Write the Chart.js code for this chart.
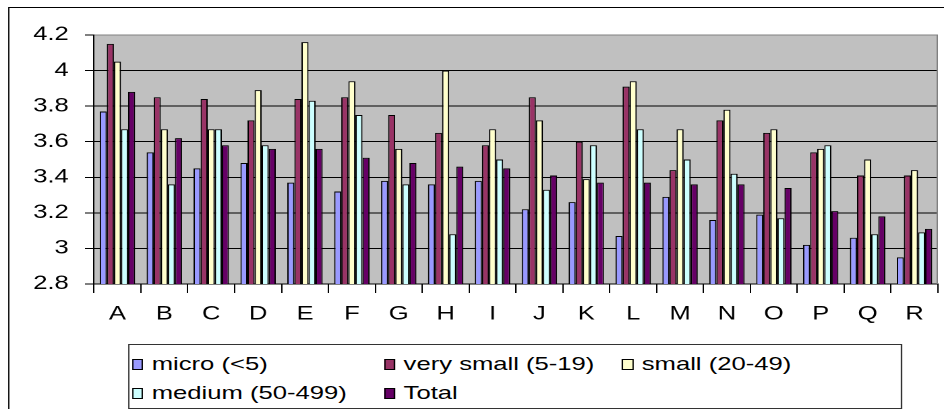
<!DOCTYPE html>
<html>
<head>
<meta charset="utf-8">
<script src="https://cdn.jsdelivr.net/npm/chart.js@4.4.0/dist/chart.umd.min.js"></script>
<style>
  body { margin: 0; background: #fff; overflow: hidden; width: 944px; height: 409px; }
  #wrap { position: absolute; left: 0; top: 0; width: 700px; height: 409px; transform: scaleX(1.34857); transform-origin: 0 0; }
  #frame { position: absolute; left: 5.9px; top: 7px; width: 800px; height: 500px; border: 1px solid #000; }
  #legend { position: absolute; left: 94.9px; top: 344px; width: 572px; height: 63px; border: 1px solid #333; background: #fff; font-family: "Liberation Sans", Arial, sans-serif; font-size: 19px; color: #000; }
  .item { position: absolute; display: flex; align-items: center; height: 20px; white-space: nowrap; }
  .sw { width: 6.4px; height: 9px; border: 1px solid #000; margin-right: 6px; }
  canvas { position: absolute; left: 0; top: 0; }
</style>
</head>
<body>
<div id="wrap">
  <div id="frame"></div>
  <canvas id="chart" width="700" height="409"></canvas>
  <div id="legend"></div>
</div>
<script>
const categories = ["A","B","C","D","E","F","G","H","I","J","K","L","M","N","O","P","Q","R"];
const micro     = [3.77,3.54,3.45,3.48,3.37,3.32,3.38,3.36,3.38,3.22,3.26,3.07,3.29,3.16,3.19,3.02,3.06,2.95];
const verySmall = [4.15,3.85,3.84,3.72,3.84,3.85,3.75,3.65,3.58,3.85,3.60,3.91,3.44,3.72,3.65,3.54,3.41,3.41];
const small     = [4.05,3.67,3.67,3.89,4.16,3.94,3.56,4.00,3.67,3.72,3.39,3.94,3.67,3.78,3.67,3.56,3.50,3.44];
const medium    = [3.67,3.36,3.67,3.58,3.83,3.75,3.36,3.08,3.50,3.33,3.58,3.67,3.50,3.42,3.17,3.58,3.08,3.09];
const total     = [3.88,3.62,3.58,3.56,3.56,3.51,3.48,3.46,3.45,3.41,3.37,3.37,3.36,3.36,3.34,3.21,3.18,3.11];
const yTicks    = [2.8, 3, 3.2, 3.4, 3.6, 3.8, 4, 4.2];

const seriesNames  = ["micro (<5)", "very small (5-19)", "small (20-49)", "medium (50-499)", "Total"];
const seriesColors = ["#9999FF", "#993366", "#FFFFCC", "#CCFFFF", "#660066"];
const seriesData   = [micro, verySmall, small, medium, total];

const FONT = { family: "'Liberation Sans', Arial, sans-serif", size: 19 };

// grey plot area + grey right edge like the old Excel look
const plotBg = {
  id: "plotBg",
  beforeDraw(chart) {
    const { ctx, chartArea: a } = chart;
    ctx.save();
    ctx.fillStyle = "#C0C0C0";
    ctx.fillRect(a.left, a.top, a.right - a.left, a.bottom - a.top);
    ctx.restore();
  },
  beforeDatasetsDraw(chart) {
    const { ctx, chartArea: a } = chart;
    ctx.save();
    ctx.strokeStyle = "#808080";
    ctx.lineWidth = 1;
    ctx.beginPath();
    ctx.moveTo(a.right - 0.5, a.top);
    ctx.lineTo(a.right - 0.5, a.bottom);
    ctx.stroke();
    ctx.restore();
  }
};

new Chart(document.getElementById("chart"), {
  type: "bar",
  data: {
    labels: categories,
    datasets: seriesData.map((d, i) => ({
      label: seriesNames[i],
      data: d,
      backgroundColor: seriesColors[i],
      borderColor: "#000",
      borderWidth: 1,
      borderSkipped: false,
      categoryPercentage: 0.755,
      barPercentage: 1
    }))
  },
  options: {
    responsive: false,
    animation: false,
    devicePixelRatio: 2,
    layout: { padding: { top: 35, right: 4.5, bottom: 0, left: 0 } },
    plugins: { legend: { display: false }, tooltip: { enabled: false } },
    scales: {
      x: {
        afterFit(s) { s.height = 125; },
        grid: { offset: true, drawOnChartArea: false, drawTicks: true, tickLength: 9, color: "#000" },
        border: { color: "#000" },
        ticks: { color: "#000", font: FONT, padding: 10, maxRotation: 0, autoSkip: false }
      },
      y: {
        min: 2.8, max: 4.2,
        afterFit(s) { s.width = 69.7; },
        afterBuildTicks(s) { s.ticks = yTicks.map(v => ({ value: v })); },
        grid: {
          color: (c) => (c.tick && c.tick.value >= 4.2 ? "#808080" : "#000"),
          tickColor: "#000",
          tickLength: 6.7
        },
        border: { color: "#000" },
        ticks: { color: "#000", font: FONT, padding: 12, callback: (v) => String(Math.round(v * 10) / 10) }
      }
    }
  },
  plugins: [plotBg]
});

// legend, laid out in two rows like the original
const legendPos = [
  { x: 2.2, y: 9 }, { x: 189, y: 9 }, { x: 365.6, y: 9 },
  { x: 2.2, y: 38 }, { x: 189, y: 38 }
];
const legend = document.getElementById("legend");
seriesNames.forEach((name, i) => {
  const it = document.createElement("div");
  it.className = "item";
  it.style.left = legendPos[i].x + "px";
  it.style.top = legendPos[i].y + "px";
  it.innerHTML = `<span class="sw" style="background:${seriesColors[i]}"></span><span>${name.replace("<", "&lt;")}</span>`;
  legend.appendChild(it);
});
</script>
</body>
</html>
